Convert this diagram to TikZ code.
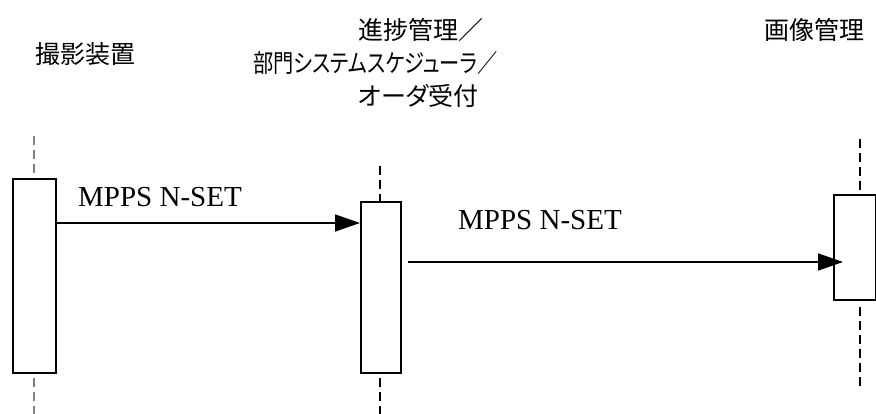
\documentclass[tikz,border=0pt]{standalone}
\usepackage{fontspec}
\setmainfont{Liberation Serif}
\newfontfamily\jp{Noto Sans CJK JP}
\newfontfamily\jpp[RawFeature=+palt]{Noto Sans CJK JP}
\usetikzlibrary{arrows.meta}
\begin{document}
\begin{tikzpicture}[x=1pt,y=-1pt,
  actbox/.style={draw, line width=1.8pt, fill=white, inner sep=0pt, anchor=north west},
  life/.style={line width=1.8pt, dash pattern=on 9pt off 5pt},
  msg/.style={line width=1.6pt, -{Triangle[length=25pt,width=17pt]}},
  lbl/.style={font=\fontsize{29}{30}\selectfont, inner sep=0pt, anchor=base west},
  jlbl/.style={font=\jp\fontsize{25}{33}\selectfont, inner sep=0pt},
  jplbl/.style={font=\jpp\fontsize{25}{33}\selectfont, inner sep=0pt, anchor=west}]
\useasboundingbox (0,0) rectangle (876,414);
% header labels
\node[jlbl] (h1) at (85,54) {撮影装置};
\node[jplbl] (h2a) at (358,30) {進捗管理／};
\node[jplbl] (h2b) at (253,63) {\scalebox{0.81}[1]{部門システムスケジューラ／}};
\node[jplbl] (h2c) at (358,96) {オーダ受付};
\node[jlbl] (h3) at (814,30) {画像管理};
% lifeline ends
\coordinate (l1t) at (34,136);
\coordinate (l1b) at (34,414);
\coordinate (l2t) at (380,166);
\coordinate (l2b) at (380,414);
\coordinate (l3t) at (860,139);
\coordinate (l3b) at (860,390);
% activation boxes
\node[actbox, minimum width=43pt, minimum height=194pt] (b1) at (12,178) {};
\node[actbox, minimum width=40pt, minimum height=171pt] (b2) at (360,201) {};
\node[actbox, minimum width=42pt, minimum height=105pt] (b3) at (833,194) {};
% lifelines
\draw[life, gray] (l1t) -- (l1t |- b1.north);
\draw[life, gray] ([yshift=-4pt]l1b |- b1.south) -- (l1b);
\draw[life] (l2t) -- (l2t |- b2.north);
\draw[life] ([yshift=-4pt]l2b |- b2.south) -- (l2b);
\draw[life] (l3t) -- (l3t |- b3.north);
\draw[life] ([yshift=-6pt]l3b |- b3.south) -- (l3b);
% messages
\coordinate (m1) at (0,223);
\coordinate (m2) at (0,262);
\draw[msg] (b1.east |- m1) -- (b2.west |- m1);
\draw[msg] ([xshift=6pt]b2.east |- m2) -- ([xshift=10pt]b3.west |- m2);
\node[lbl] (t1) at (78,207) {MPPS N-SET};
\node[lbl] (t2) at (458,230) {MPPS N-SET};
\end{tikzpicture}
\end{document}
